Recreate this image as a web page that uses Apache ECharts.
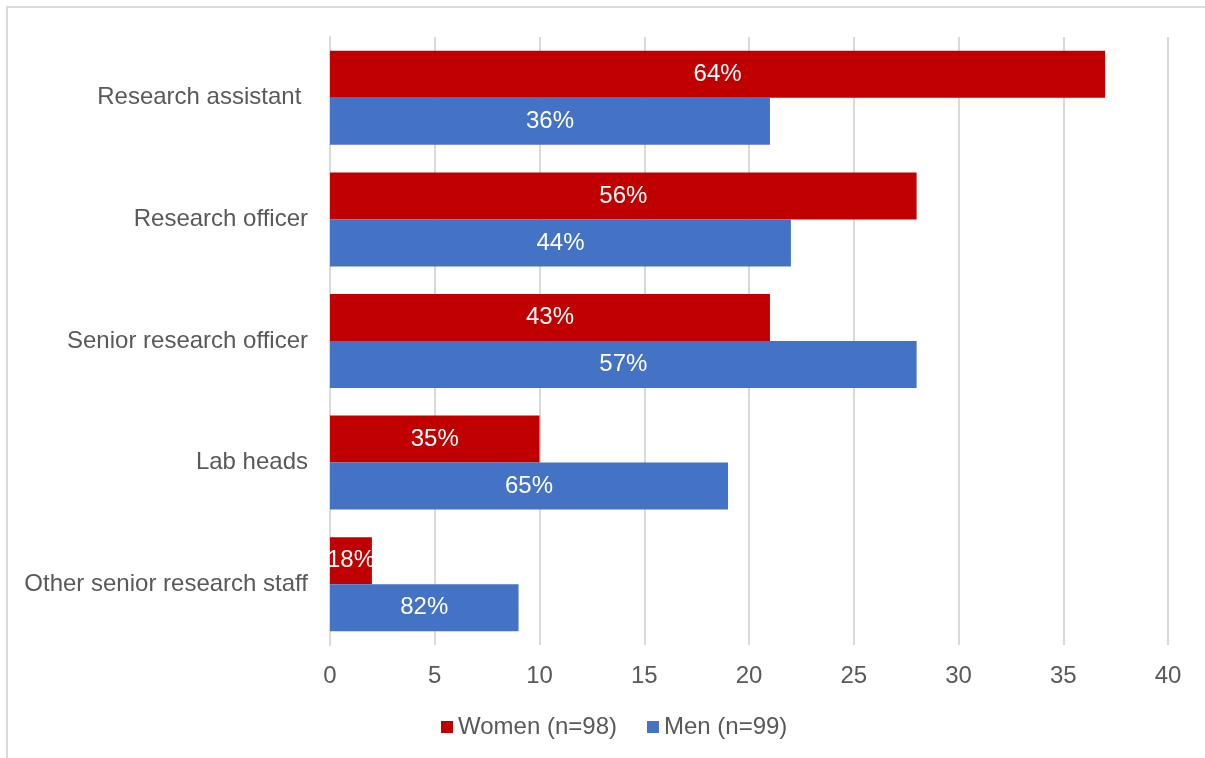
<!DOCTYPE html>
<html>
<head>
<meta charset="utf-8">
<script src="https://cdn.jsdelivr.net/npm/echarts@6/dist/echarts.min.js"></script>
<style>
  html, body { margin: 0; padding: 0; background: #fff; }
  #chart { width: 1205px; height: 758px; }
</style>
</head>
<body>
<div id="chart"></div>
<script>
const categories = [
  "Research assistant ",
  "Research officer",
  "Senior research officer",
  "Lab heads",
  "Other senior research staff",
];
const womenValues = [37, 28, 21, 10, 2];
const menValues = [21, 22, 28, 19, 9];
const womenPct = ["64%", "56%", "43%", "35%", "18%"];
const menPct = ["36%", "44%", "57%", "65%", "82%"];
const xTicks = { min: 0, max: 40, interval: 5 };

const chart = echarts.init(document.getElementById("chart"));
const font = "'Liberation Sans', Arial, sans-serif";
const grey = "#595959";

chart.setOption({
  animation: false,
  textStyle: { fontFamily: font },
  graphic: [
    {
      type: "rect",
      shape: { x: 7, y: 7, width: 1400, height: 900 },
      style: { fill: "none", stroke: "#d9d9d9", lineWidth: 2 },
      silent: true,
    },
  ],
  legend: {
    data: ["Women (n=98)", "Men (n=99)"],
    left: 436,
    top: 710,
    itemWidth: 12,
    itemHeight: 12,
    itemGap: 30,
    icon: "rect",
    textStyle: { color: grey, fontSize: 24, fontFamily: font },
  },
  grid: { left: 330, right: 37, top: 37, bottom: 113 },
  xAxis: {
    type: "value",
    min: xTicks.min,
    max: xTicks.max,
    interval: xTicks.interval,
    axisLine: { show: false },
    axisTick: { show: false },
    axisLabel: { color: grey, fontSize: 24, margin: 19 },
    splitLine: { lineStyle: { color: "#d9d9d9", width: 2 } },
  },
  yAxis: {
    type: "category",
    data: categories,
    inverse: true,
    axisLine: { show: true, lineStyle: { color: "#d9d9d9", width: 2 } },
    axisTick: { show: false },
    axisLabel: { color: grey, fontSize: 24, margin: 22, padding: [3, 0, 0, 0] },
  },
  series: [
    {
      name: "Women (n=98)",
      type: "bar",
      data: womenValues,
      barWidth: 47,
      barGap: "0%",
      itemStyle: { color: "#C00000" },
      label: {
        show: true,
        position: "inside",
        color: "#fff",
        fontSize: 24,
        formatter: (p) => womenPct[p.dataIndex],
      },
    },
    {
      name: "Men (n=99)",
      type: "bar",
      data: menValues,
      barWidth: 47,
      barGap: "0%",
      itemStyle: { color: "#4472C4" },
      label: {
        show: true,
        position: "inside",
        color: "#fff",
        fontSize: 24,
        formatter: (p) => menPct[p.dataIndex],
      },
    },
  ],
});
</script>
</body>
</html>
